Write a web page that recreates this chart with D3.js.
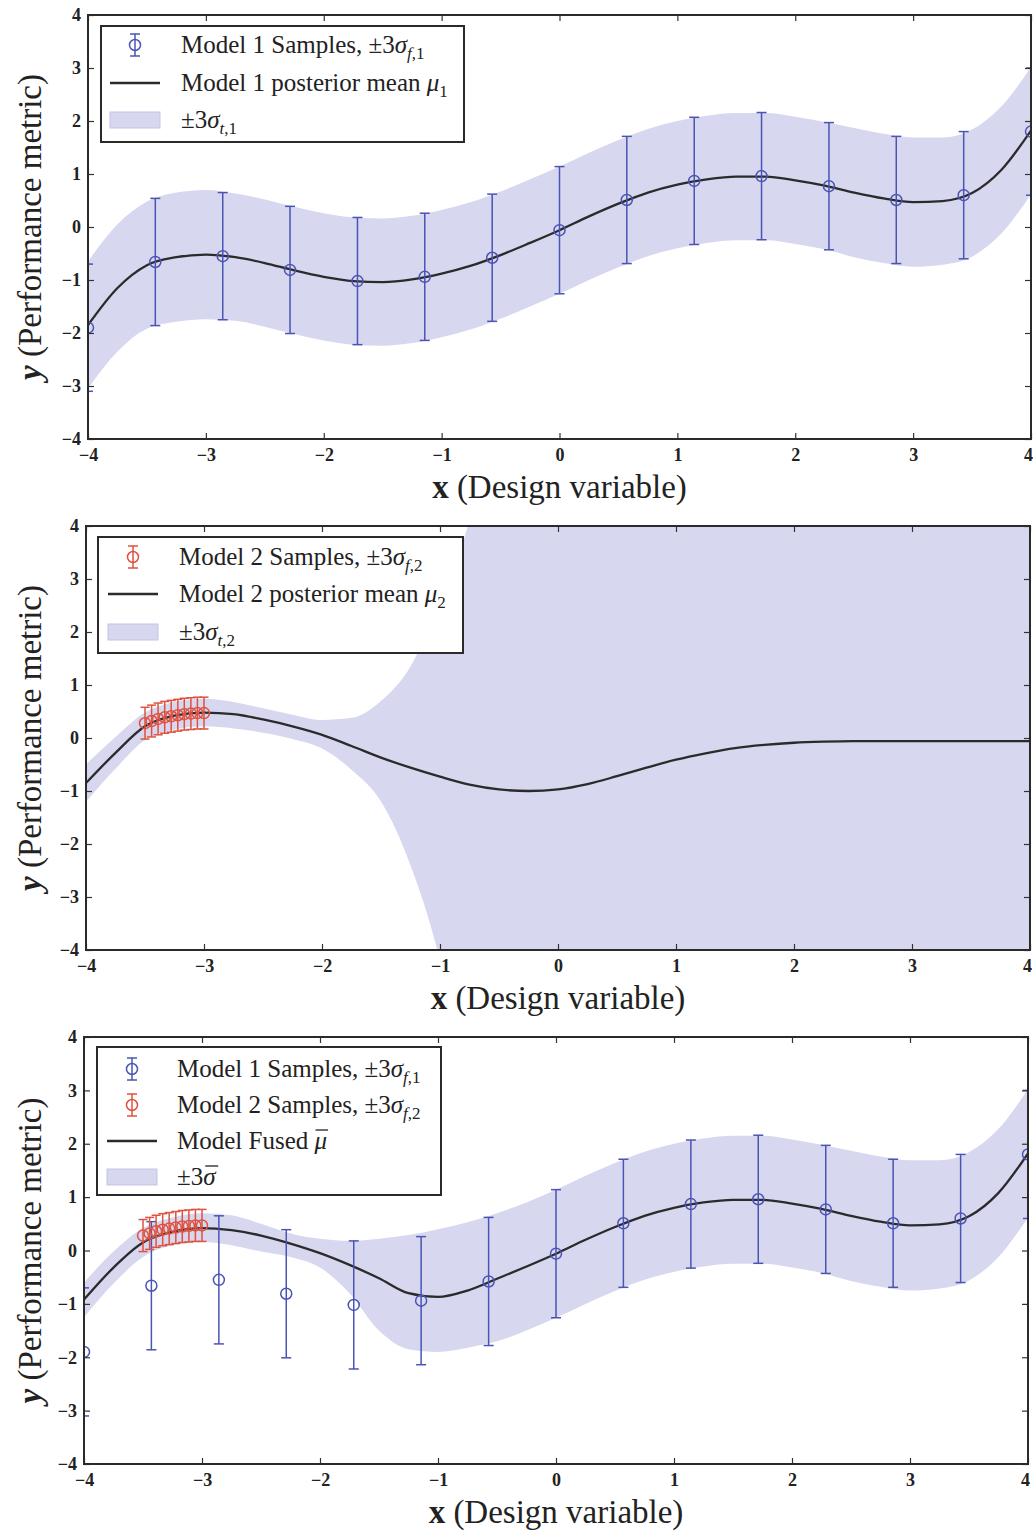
<!DOCTYPE html>
<html>
<head>
<meta charset="utf-8">
<script src="https://cdn.jsdelivr.net/npm/d3@7"></script>
<style>
  body { margin: 0; background: #fff; }
  svg text { font-family: "Liberation Serif", "DejaVu Serif", serif; fill: #222; }
</style>
</head>
<body>
<svg id="chart" width="1033" height="1532"></svg>
<script>
// ---- data -------------------------------------------------------------
const gridX = [-4, -3.75, -3.5, -3.25, -3, -2.75, -2.5, -2.25, -2, -1.75, -1.5, -1.25, -1, -0.75, -0.5, -0.25,
               0, 0.25, 0.5, 0.75, 1, 1.25, 1.5, 1.75, 2, 2.25, 2.5, 2.75, 3, 3.25, 3.5, 3.75, 4];

// Model 1 (coarse model): posterior mean and ±3σ_t half-width
const model1Mean = [-1.85, -1.15, -0.72, -0.57, -0.52, -0.57, -0.68, -0.82, -0.94, -1.02, -1.04, -0.99, -0.88, -0.73, -0.53, -0.3,
                    -0.06, 0.2, 0.44, 0.65, 0.8, 0.9, 0.95, 0.95, 0.88, 0.78, 0.65, 0.54, 0.47, 0.49, 0.64, 1.08, 1.82];
const model1Band = [1.2, 1.2, 1.2, 1.22, 1.22, 1.2, 1.2, 1.2, 1.2, 1.2, 1.2, 1.2, 1.2, 1.2, 1.2, 1.2,
                    1.2, 1.2, 1.2, 1.2, 1.2, 1.2, 1.2, 1.2, 1.2, 1.2, 1.22, 1.22, 1.22, 1.2, 1.2, 1.2, 1.2];

const model1SampleX = [-4, -3.429, -2.857, -2.286, -1.714, -1.143, -0.571, 0, 0.571, 1.143, 1.714, 2.286, 2.857, 3.429, 4];
const model1SampleY = [-1.9, -0.66, -0.55, -0.81, -1.02, -0.94, -0.58, -0.06, 0.51, 0.87, 0.96, 0.77, 0.51, 0.6, 1.8];
const model1SampleErr = [1.2, 1.2, 1.2, 1.2, 1.2, 1.2, 1.2, 1.2, 1.2, 1.2, 1.2, 1.2, 1.2, 1.2, 1.2];

// Model 2 (fine model): samples clustered near x = -3.25
const model2SampleX = [-3.5, -3.444, -3.389, -3.333, -3.278, -3.222, -3.167, -3.111, -3.056, -3];
const model2SampleY = [0.28, 0.32, 0.36, 0.39, 0.41, 0.43, 0.45, 0.46, 0.47, 0.47];
const model2SampleErr = [0.3, 0.3, 0.3, 0.3, 0.3, 0.3, 0.3, 0.3, 0.3, 0.3];

const model2Mean = [-0.85, -0.28, 0.22, 0.42, 0.48, 0.45, 0.35, 0.22, 0.06, -0.15, -0.37, -0.56, -0.73, -0.88, -0.97, -1.0,
                    -0.97, -0.87, -0.72, -0.56, -0.41, -0.29, -0.19, -0.13, -0.09, -0.07, -0.06, -0.06, -0.06, -0.06, -0.06, -0.06, -0.06];
const model2Lower = [-1.2, -0.58, -0.04, 0.16, 0.22, 0.18, 0.1, -0.02, -0.2, -0.6, -1.2, -2.4, -4.2, -7, -10, -12,
                     -12, -12, -12, -12, -12, -12, -12, -12, -12, -12, -12, -12, -12, -12, -12, -12, -12];
const model2Upper = [-0.5, 0.02, 0.48, 0.68, 0.74, 0.68, 0.56, 0.44, 0.34, 0.38, 0.7, 1.35, 2.6, 4.1, 6.5, 12,
                     12, 12, 12, 12, 12, 12, 12, 12, 12, 12, 12, 12, 12, 12, 12, 12, 12];

// Fused model: mean and ±3σ̄ envelope
const fusedMean = [-0.92, -0.32, 0.15, 0.35, 0.42, 0.38, 0.28, 0.13, -0.05, -0.27, -0.52, -0.8, -0.87, -0.75, -0.53, -0.3,
                   -0.06, 0.2, 0.44, 0.65, 0.8, 0.9, 0.95, 0.95, 0.88, 0.78, 0.65, 0.54, 0.47, 0.49, 0.64, 1.08, 1.82];
const fusedLower = [-1.25, -0.62, -0.12, 0.1, 0.16, 0.1, -0.02, -0.12, -0.32, -0.8, -1.5, -1.85, -1.9, -1.82, -1.7, -1.5,
                    -1.26, -1.0, -0.76, -0.55, -0.4, -0.3, -0.25, -0.25, -0.32, -0.42, -0.57, -0.68, -0.75, -0.71, -0.56, -0.12, 0.62];
const fusedUpper = [-0.6, -0.02, 0.42, 0.62, 0.7, 0.66, 0.5, 0.32, 0.22, 0.18, 0.22, 0.29, 0.4, 0.53, 0.7, 0.9,
                    1.14, 1.4, 1.64, 1.85, 2.0, 2.1, 2.15, 2.15, 2.08, 1.98, 1.87, 1.76, 1.69, 1.69, 1.84, 2.28, 3.02];

const xTicks = [-4, -3, -2, -1, 0, 1, 2, 3, 4];
const yTicks = [-4, -3, -2, -1, 0, 1, 2, 3, 4];

// ---- styles ------------------------------------------------------------
const BAND = "#d7d7f0";
const BAND_EDGE = "#c4c4e4";
const BLUE = "#4a54b4";
const RED = "#e0513f";
const LINE = "#2b2b2b";

const svg = d3.select("#chart");
const defs = svg.append("defs");

const model1Samples = { x: model1SampleX, y: model1SampleY, e: model1SampleErr, color: BLUE, r: 5.5, cap: 5 };
const model2Samples = { x: model2SampleX, y: model2SampleY, e: model2SampleErr, color: RED, r: 5.5, cap: 4.5 };

const panels = [
  {
    id: "p1", left: 88, right: 1031, top: 15, bottom: 439,
    lower: model1Mean.map((m, i) => m - model1Band[i]),
    upper: model1Mean.map((m, i) => m + model1Band[i]),
    mean: model1Mean,
    samples: [model1Samples],
    legend: {
      x0: 101, y0: 26, x1: 464, y1: 142, textX: 181, handleX: 110, handleW: 50,
      rows: [
        { kind: "err", color: BLUE, cy: 45, parts: [["Model 1 Samples, ±3"], ["σ", "i"], ["f", "is"], [",1", "s"]] },
        { kind: "line", cy: 83, parts: [["Model 1 posterior mean "], ["μ", "i"], ["1", "s"]] },
        { kind: "patch", cy: 120, parts: [["±3"], ["σ", "i"], ["t", "is"], [",1", "s"]] }
      ]
    }
  },
  {
    id: "p2", left: 86, right: 1030, top: 526, bottom: 950,
    lower: model2Lower, upper: model2Upper, mean: model2Mean,
    samples: [model2Samples],
    legend: {
      x0: 98, y0: 537, x1: 463, y1: 653, textX: 179, handleX: 108, handleW: 50,
      rows: [
        { kind: "err", color: RED, cy: 557, parts: [["Model 2 Samples, ±3"], ["σ", "i"], ["f", "is"], [",2", "s"]] },
        { kind: "line", cy: 594, parts: [["Model 2 posterior mean "], ["μ", "i"], ["2", "s"]] },
        { kind: "patch", cy: 632, parts: [["±3"], ["σ", "i"], ["t", "is"], [",2", "s"]] }
      ]
    }
  },
  {
    id: "p3", left: 84, right: 1028, top: 1037, bottom: 1464,
    lower: fusedLower, upper: fusedUpper, mean: fusedMean,
    samples: [model1Samples, model2Samples],
    legend: {
      x0: 97, y0: 1047, x1: 441, y1: 1195, textX: 177, handleX: 107, handleW: 50,
      rows: [
        { kind: "err", color: BLUE, cy: 1069, parts: [["Model 1 Samples, ±3"], ["σ", "i"], ["f", "is"], [",1", "s"]] },
        { kind: "err", color: RED, cy: 1105, parts: [["Model 2 Samples, ±3"], ["σ", "i"], ["f", "is"], [",2", "s"]] },
        { kind: "line", cy: 1141, parts: [["Model Fused "], ["μ", "ib"]] },
        { kind: "patch", cy: 1177, parts: [["±3"], ["σ", "ib"]] }
      ]
    }
  }
];

// Writes a run of text pieces: "i" italic, "s" subscript, "b" overbar.
function mathText(g, x, y, parts, size) {
  const t = g.append("text").attr("x", x).attr("y", y).attr("font-size", size);
  let inSub = false;
  const bars = [];
  parts.forEach(([str, st = ""]) => {
    const ts = t.append("tspan").text(str);
    if (st.includes("i")) ts.attr("font-style", "italic");
    const sub = st.includes("s");
    if (sub) ts.attr("font-size", size * 0.68);
    if (sub && !inSub) ts.attr("dy", size * 0.24);
    if (!sub && inSub) ts.attr("dy", -size * 0.24);
    inSub = sub;
    if (st.includes("b")) bars.push(ts);
  });
  bars.forEach(ts => {
    const bb = ts.node().getBBox();
    g.append("line")
      .attr("x1", bb.x + 2).attr("x2", bb.x + bb.width + 1)
      .attr("y1", bb.y + 3).attr("y2", bb.y + 3)
      .attr("stroke", "#222").attr("stroke-width", 1.3);
  });
  return t;
}

function drawErrorbars(g, x, y, s) {
  const idx = d3.range(s.x.length);
  const grp = g.append("g").attr("stroke", s.color).attr("fill", "none").attr("stroke-width", 1.5);
  grp.selectAll("line.v").data(idx).join("line").attr("class", "v")
    .attr("x1", i => x(s.x[i])).attr("x2", i => x(s.x[i]))
    .attr("y1", i => y(s.y[i] - s.e[i])).attr("y2", i => y(s.y[i] + s.e[i]));
  grp.selectAll("line.ct").data(idx).join("line").attr("class", "ct")
    .attr("x1", i => x(s.x[i]) - s.cap).attr("x2", i => x(s.x[i]) + s.cap)
    .attr("y1", i => y(s.y[i] + s.e[i])).attr("y2", i => y(s.y[i] + s.e[i]));
  grp.selectAll("line.cb").data(idx).join("line").attr("class", "cb")
    .attr("x1", i => x(s.x[i]) - s.cap).attr("x2", i => x(s.x[i]) + s.cap)
    .attr("y1", i => y(s.y[i] - s.e[i])).attr("y2", i => y(s.y[i] - s.e[i]));
  grp.selectAll("circle").data(idx).join("circle")
    .attr("cx", i => x(s.x[i])).attr("cy", i => y(s.y[i])).attr("r", s.r);
}

function drawPanel(p) {
  const x = d3.scaleLinear().domain([-4, 4]).range([p.left, p.right]);
  const y = d3.scaleLinear().domain([-4, 4]).range([p.bottom, p.top]);
  const g = svg.append("g");

  defs.append("clipPath").attr("id", "clip-" + p.id)
    .append("rect").attr("x", p.left).attr("y", p.top)
    .attr("width", p.right - p.left).attr("height", p.bottom - p.top);
  const plot = g.append("g").attr("clip-path", `url(#clip-${p.id})`);

  const band = d3.area()
    .x((d, i) => x(gridX[i]))
    .y0((d, i) => y(p.lower[i]))
    .y1((d, i) => y(p.upper[i]))
    .curve(d3.curveMonotoneX);
  plot.append("path").datum(gridX).attr("d", band).attr("fill", BAND);

  const meanLine = d3.line()
    .x((d, i) => x(gridX[i]))
    .y((d, i) => y(p.mean[i]))
    .curve(d3.curveMonotoneX);
  plot.append("path").datum(gridX).attr("d", meanLine)
    .attr("fill", "none").attr("stroke", LINE).attr("stroke-width", 2.3);

  p.samples.forEach(s => drawErrorbars(plot, x, y, s));

  // axes: inward ticks on all four sides, labels on bottom and left
  const styleAxis = sel => {
    sel.select(".domain").remove();
    sel.selectAll(".tick line").attr("stroke", "#333").attr("stroke-width", 1.2);
    sel.selectAll(".tick text").attr("font-size", 18).attr("font-weight", "bold")
      .attr("fill", "#222").attr("font-family", "Liberation Serif, serif");
  };
  const bottomAxis = g.append("g").attr("transform", `translate(0,${p.bottom})`)
    .call(d3.axisBottom(x).tickValues(xTicks).tickSizeInner(-6).tickSizeOuter(0).tickPadding(9))
    .call(styleAxis);
  // the last label sits at the page edge; keep it inside
  bottomAxis.selectAll(".tick text").filter(d => d === 4).attr("dx", -3);
  g.append("g").attr("transform", `translate(0,${p.top})`)
    .call(d3.axisTop(x).tickValues(xTicks).tickSizeInner(-6).tickSizeOuter(0).tickFormat(""))
    .call(styleAxis);
  g.append("g").attr("transform", `translate(${p.left},0)`)
    .call(d3.axisLeft(y).tickValues(yTicks).tickSizeInner(-6).tickSizeOuter(0).tickPadding(7))
    .call(styleAxis);
  g.append("g").attr("transform", `translate(${p.right},0)`)
    .call(d3.axisRight(y).tickValues(yTicks).tickSizeInner(-6).tickSizeOuter(0).tickFormat(""))
    .call(styleAxis);

  g.append("rect").attr("x", p.left).attr("y", p.top)
    .attr("width", p.right - p.left).attr("height", p.bottom - p.top)
    .attr("fill", "none").attr("stroke", "#2a2a2a").attr("stroke-width", 2);

  // axis titles
  const cx = (p.left + p.right) / 2;
  const xt = g.append("text").attr("x", cx).attr("y", p.bottom + 59)
    .attr("text-anchor", "middle").attr("font-size", 33);
  xt.append("tspan").attr("font-weight", "bold").text("x");
  xt.append("tspan").text(" (Design variable)");

  const cy = (p.top + p.bottom) / 2;
  const yt = g.append("text").attr("transform", `translate(41,${cy}) rotate(-90)`)
    .attr("text-anchor", "middle").attr("font-size", 33);
  yt.append("tspan").attr("font-weight", "bold").attr("font-style", "italic").text("y");
  yt.append("tspan").text(" (Performance metric)");

  // legend
  const L = p.legend;
  const lg = g.append("g");
  lg.append("rect").attr("x", L.x0).attr("y", L.y0)
    .attr("width", L.x1 - L.x0).attr("height", L.y1 - L.y0)
    .attr("fill", "#fff").attr("stroke", "#2a2a2a").attr("stroke-width", 2);
  L.rows.forEach(r => {
    const hx = L.handleX, hw = L.handleW, mid = hx + hw / 2;
    if (r.kind === "err") {
      const eg = lg.append("g").attr("stroke", r.color).attr("fill", "none").attr("stroke-width", 1.5);
      eg.append("line").attr("x1", mid).attr("x2", mid).attr("y1", r.cy - 11).attr("y2", r.cy + 11);
      eg.append("line").attr("x1", mid - 5).attr("x2", mid + 5).attr("y1", r.cy - 11).attr("y2", r.cy - 11);
      eg.append("line").attr("x1", mid - 5).attr("x2", mid + 5).attr("y1", r.cy + 11).attr("y2", r.cy + 11);
      eg.append("circle").attr("cx", mid).attr("cy", r.cy).attr("r", 5.5);
    } else if (r.kind === "line") {
      lg.append("line").attr("x1", hx).attr("x2", hx + hw).attr("y1", r.cy).attr("y2", r.cy)
        .attr("stroke", LINE).attr("stroke-width", 2.3);
    } else {
      lg.append("rect").attr("x", hx).attr("y", r.cy - 8).attr("width", hw).attr("height", 16)
        .attr("fill", BAND).attr("stroke", BAND_EDGE).attr("stroke-width", 1);
    }
    mathText(lg, L.textX, r.cy + 8, r.parts, 25);
  });
}

panels.forEach(drawPanel);
</script>
</body>
</html>
